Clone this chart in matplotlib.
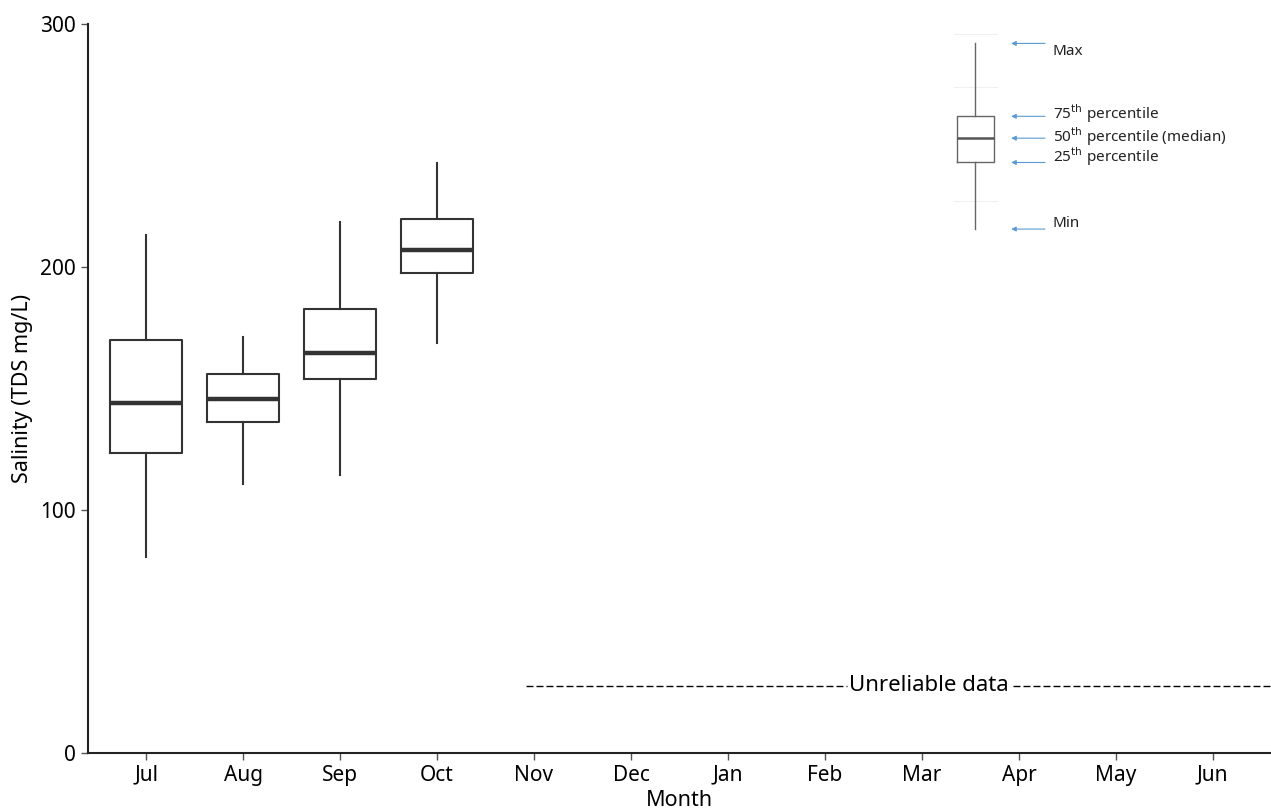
import matplotlib.pyplot as plt

plt.rcParams['font.family'] = ['Noto Sans', 'DejaVu Sans']

# monthly salinity summaries (TDS mg/L)
months = ['Jul', 'Aug', 'Sep', 'Oct', 'Nov', 'Dec', 'Jan', 'Feb', 'Mar', 'Apr', 'May', 'Jun']
box_months = ['Jul', 'Aug', 'Sep', 'Oct']
whisker_low = [80.7, 110.7, 114.4, 168.7]
q1 = [123.5, 136.2, 153.9, 197.5]
median = [144.0, 145.7, 164.6, 207.0]
q3 = [170.0, 156.0, 182.7, 219.8]
whisker_high = [213.2, 171.2, 218.5, 242.8]

# key box drawn in the upper right
key_stats = [215.6, 243.0, 253.0, 262.0, 292.0]
key_labels = ['Min', '25$^{\\mathrm{th}}$ percentile', '50$^{\\mathrm{th}}$ percentile (median)',
              '75$^{\\mathrm{th}}$ percentile', 'Max']
key_text_shift = [4, 4, 1, 2, -5.5]  # points, label relative to its arrow
key_x = 9.55

unreliable_level = 27.6

fig = plt.figure(figsize=(12.71, 8.10), dpi=100)
ax = fig.add_axes([0.0692, 0.0704, 0.9308, 0.9000])

stats = []
for m, lo, a, med, b, hi in zip(box_months, whisker_low, q1, median, q3, whisker_high):
    stats.append({'label': m, 'whislo': lo, 'q1': a, 'med': med, 'q3': b, 'whishi': hi})
pos = [months.index(m) + 1 for m in box_months]
ax.bxp(stats, positions=pos, widths=0.75, showfliers=False, showcaps=False,
       boxprops=dict(color='#333333', linewidth=1.5),
       whiskerprops=dict(color='#333333', linewidth=1.5),
       medianprops=dict(color='#333333', linewidth=3.2))

# key
lo, a, med, b, hi = key_stats
ax.bxp([{'whislo': lo, 'q1': a, 'med': med, 'q3': b, 'whishi': hi}], positions=[key_x],
       widths=0.38, showfliers=False, showcaps=False, manage_ticks=False,
       boxprops=dict(color='#666666', linewidth=1.0),
       whiskerprops=dict(color='#666666', linewidth=1.0),
       medianprops=dict(color='#555555', linewidth=1.8))
for v in [296.0, 274.0, 227.0]:
    ax.plot([key_x - 0.22, key_x + 0.22], [v, v], color='#f0f0f0', linewidth=0.8, zorder=0)
for v, lab, dy in zip(key_stats, key_labels, key_text_shift):
    ax.annotate('', xy=(key_x + 0.37, v), xytext=(key_x + 0.72, v),
                arrowprops=dict(arrowstyle='-|>', color='#5b9bd5', linewidth=0.8,
                                mutation_scale=7, shrinkA=0, shrinkB=0))
    ax.annotate(lab, xy=(key_x + 0.8, v), xytext=(0, dy), textcoords='offset points',
                fontsize=11, va='center', ha='left', color='#222222')

# unreliable data marker
ax.hlines(unreliable_level, 4.92, 8.23, colors='black', linewidth=1.0, linestyles=(0, (5, 2.2)))
ax.hlines(unreliable_level, 9.94, 12.6, colors='black', linewidth=1.0, linestyles=(0, (5, 2.2)))
ax.text(9.07, unreliable_level, 'Unreliable data', fontsize=16, ha='center', va='center',
        color='black')

ax.set_xlim(0.4, 12.6)
ax.set_ylim(0, 300)
ax.set_xticks(range(1, 13))
ax.set_xticklabels(months)
ax.set_yticks([0, 100, 200, 300])
ax.tick_params(labelsize=15, length=5, color='#555555', width=1)
ax.set_xlabel('Month', fontsize=15.5, labelpad=3)
ax.set_ylabel('Salinity (TDS mg/L)', fontsize=15.5, labelpad=5)
for s in ['top', 'right']:
    ax.spines[s].set_visible(False)
for s in ['left', 'bottom']:
    ax.spines[s].set_color('#222222')
    ax.spines[s].set_linewidth(1.5)

fig.savefig('out.png', dpi=100)
